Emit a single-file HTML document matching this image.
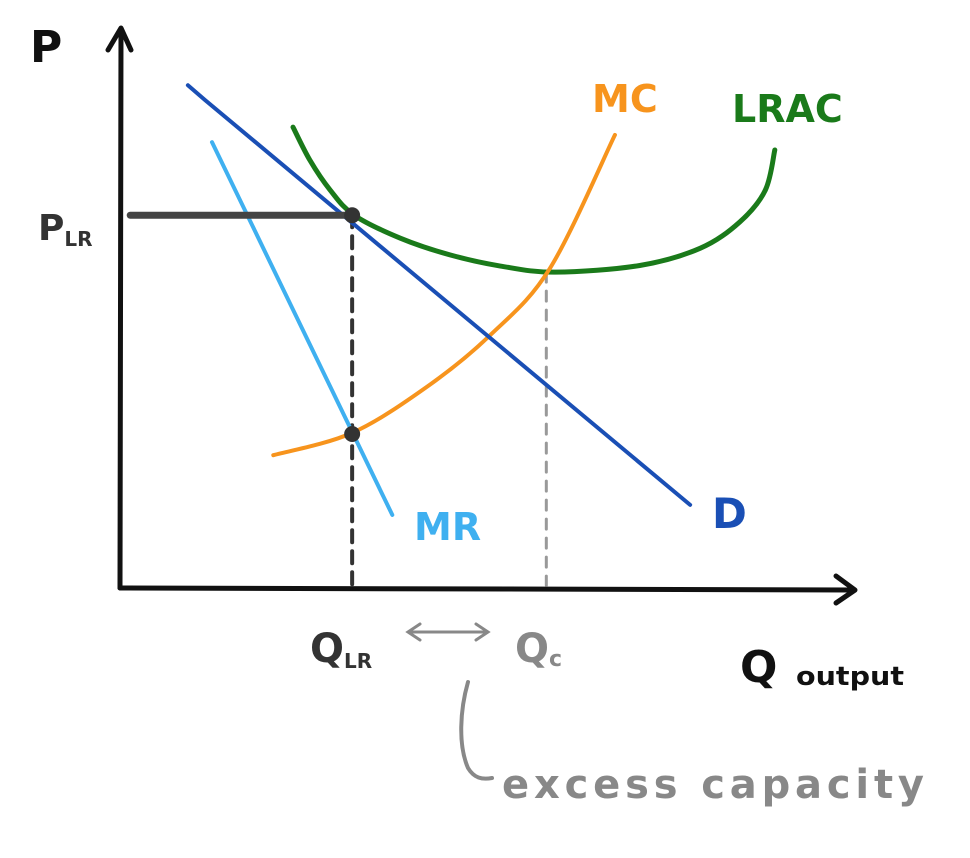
<!DOCTYPE html>
<html><head><meta charset="utf-8"><style>
html,body{margin:0;padding:0;background:#fff}
svg{display:block}
text{font-family:"DejaVu Sans","Liberation Sans",sans-serif;font-weight:bold}
</style></head><body>
<svg id="chart" width="970" height="858" viewBox="0 0 970 858" xmlns="http://www.w3.org/2000/svg">
<g id="axes">
<path d="M120 588 L121 30" stroke="#111" stroke-width="5" fill="none" stroke-linecap="round"/>
<path d="M108 50 L121 28 L131 50" stroke="#111" stroke-width="5" fill="none" stroke-linecap="round" stroke-linejoin="round"/>
<path d="M120 588 L853 590" stroke="#111" stroke-width="5" fill="none" stroke-linecap="round"/>
<path d="M836 576 L855 590 L836 603" stroke="#111" stroke-width="5" fill="none" stroke-linecap="round" stroke-linejoin="round"/>
<text x="30" y="62" font-size="44" fill="#111">P</text>
<text x="740" y="682" font-size="44" fill="#111">Q</text>
<text x="796" y="685" font-size="26" fill="#111" textLength="108" lengthAdjust="spacingAndGlyphs">output</text>
</g>
<g id="marks"></g>
<g id="labels">
<text x="38" y="240" font-size="36" fill="#333">P<tspan font-size="20" dy="6">LR</tspan></text>
<text x="310" y="662" font-size="40" fill="#333">Q<tspan font-size="20" dy="6">LR</tspan></text>
<text x="515" y="662" font-size="40" fill="#888">Q<tspan font-size="22" dy="4">c</tspan></text>
<path d="M410 632 L486 632 M420 624 L408 632 L420 640 M476 624 L488 632 L476 640" stroke="#888" stroke-width="3" fill="none" stroke-linecap="round"/>
<path d="M468 682 C460 710 458 745 468 768 C474 778 482 780 492 778" stroke="#888" stroke-width="4" fill="none" stroke-linecap="round"/>
<text x="502" y="798" font-size="40" fill="#888" font-weight="normal" textLength="422" lengthAdjust="spacing">excess capacity</text>
<text x="592" y="112" font-size="38" fill="#f7941d">MC</text>
<text x="732" y="122" font-size="38" fill="#1a7a1a">LRAC</text>
<text x="414" y="540" font-size="38" fill="#3fb0f0">MR</text>
<text x="712" y="528" font-size="42" fill="#1a4fb5">D</text>
</g>
</svg>
<script>
const demandQ=[9.3,11.6,78.1];
const demandP=[90.1,87.5,14.9];
const mrQ=[12.6,37.3];
const mrP=[79.9,13.1];
const mcQ=[21.0,31.8,42.2,50.7,58.9,67.8];
const mcP=[23.8,27.8,36.2,45.3,57.3,81.2];
const lracQ=[23.7,26.0,28.8,32.1,38.4,45.2,52.1,59.6,71.2,79.5,84.9,88.4,89.7];
const lracP=[82.6,76.7,71.3,66.8,62.7,59.7,57.7,56.6,57.8,60.9,65.6,71.3,78.5];
const priceLR=66.8;
const qLR=31.8;
const qC=58.4;
const mrMcP=27.6;

const xS=q=>120+q*7.3;
const yS=p=>588-p*5.58;
const NS="http://www.w3.org/2000/svg";
const g=document.getElementById('marks');
function smooth(qs,ps){
  const pts=qs.map((q,i)=>[xS(q),yS(ps[i])]);
  let d="M"+pts[0][0]+" "+pts[0][1];
  for(let i=0;i<pts.length-1;i++){
    const p0=pts[i-1]||pts[i],p1=pts[i],p2=pts[i+1],p3=pts[i+2]||p2;
    const c1=[p1[0]+(p2[0]-p0[0])/6,p1[1]+(p2[1]-p0[1])/6];
    const c2=[p2[0]-(p3[0]-p1[0])/6,p2[1]-(p3[1]-p1[1])/6];
    d+=` C${c1[0]} ${c1[1]} ${c2[0]} ${c2[1]} ${p2[0]} ${p2[1]}`;
  }
  return d;
}
function poly(qs,ps){
  return qs.map((q,i)=>(i?'L':'M')+xS(q)+' '+yS(ps[i])).join(' ');
}
function path(d,color,w,dash){
  const p=document.createElementNS(NS,'path');
  p.setAttribute('d',d);p.setAttribute('stroke',color);p.setAttribute('stroke-width',w);
  p.setAttribute('fill','none');p.setAttribute('stroke-linecap','round');p.setAttribute('stroke-linejoin','round');
  if(dash)p.setAttribute('stroke-dasharray',dash);
  g.appendChild(p);return p;
}
let e;
e=path(`M${xS(qC)} ${yS(56.6)} L${xS(qC)} ${yS(0.5)}`,'#999',3,'10 9');


e=path(`M${xS(qLR)} ${yS(priceLR)} L${xS(qLR)} ${yS(0.5)}`,'#333',4,'12 9');


e=path(smooth(lracQ,lracP),'#1a7a1a',5);


e=path(smooth(mcQ,mcP),'#f7941d',4);


e=path(poly(mrQ,mrP),'#3fb0f0',4);


e=path(poly(demandQ,demandP),'#1a4fb5',4);


e=path(`M${xS(1.4)} ${yS(priceLR)} L${xS(qLR)} ${yS(priceLR)}`,'#444',7);


function dot(q,p,name){
  const c=document.createElementNS(NS,'circle');
  c.setAttribute('cx',xS(q));c.setAttribute('cy',yS(p));c.setAttribute('r',8);c.setAttribute('fill','#333');
  
  
  g.appendChild(c);
}
dot(qLR,priceLR,'long-run-equilibrium-point');
dot(qLR,mrMcP,'mr-mc-intersection-point');
</script>
</body></html>
